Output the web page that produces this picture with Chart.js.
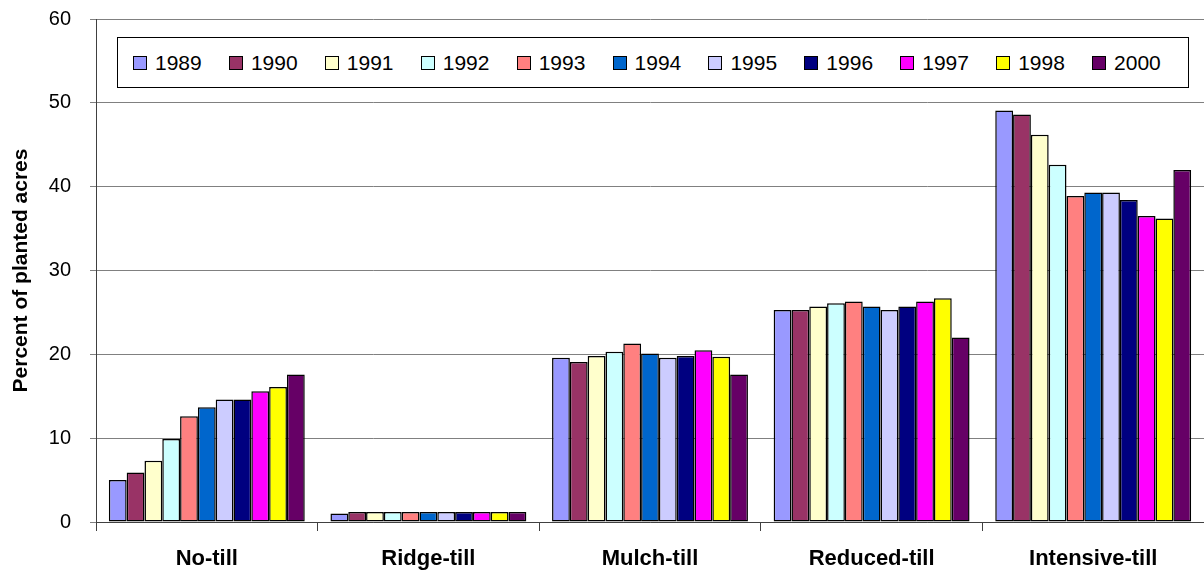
<html lang="en">
<head>
<meta charset="UTF-8">
<title>Tillage practices</title>
<script src="https://cdn.jsdelivr.net/npm/chart.js"></script>
<style>
  body { margin: 0; background: #fff; font-family: "Liberation Sans", Arial, sans-serif; }
  #wrap { position: relative; width: 1204px; height: 571px; }
  #legend {
    position: absolute; left: 117px; top: 37px; width: 1072px; height: 51px;
    box-sizing: border-box; border: 1px solid #000; background: #fff;
    display: flex; align-items: center; padding-left: 15px;
  }
  .item { width: 98px; display: flex; align-items: center; font-size: 21px; color: #000; }
  .sw { width: 14px; height: 14px; box-sizing: border-box; border: 1.5px solid #000; margin-right: 8px; }
</style>
</head>
<body>
<div id="wrap">
  <canvas id="c" width="1204" height="571"></canvas>
  <div id="legend"></div>
</div>
<script>
// data
const categories = ['No-till', 'Ridge-till', 'Mulch-till', 'Reduced-till', 'Intensive-till'];
const years = ['1989', '1990', '1991', '1992', '1993', '1994', '1995', '1996', '1997', '1998', '2000'];
const v1989 = [5.0, 1.0, 19.6, 25.3, 49.1];
const v1990 = [5.9, 1.2, 19.1, 25.3, 48.6];
const v1991 = [7.3, 1.2, 19.8, 25.7, 46.2];
const v1992 = [9.9, 1.2, 20.3, 26.1, 42.6];
const v1993 = [12.6, 1.2, 21.3, 26.3, 38.9];
const v1994 = [13.7, 1.2, 20.1, 25.7, 39.3];
const v1995 = [14.6, 1.2, 19.6, 25.3, 39.3];
const v1996 = [14.6, 1.2, 19.8, 25.7, 38.4];
const v1997 = [15.6, 1.2, 20.5, 26.3, 36.5];
const v1998 = [16.1, 1.2, 19.7, 26.7, 36.2];
const v2000 = [17.6, 1.2, 17.6, 22.0, 42.0];
const series = [v1989, v1990, v1991, v1992, v1993, v1994, v1995, v1996, v1997, v1998, v2000];
const yTitle = 'Percent of planted acres';

const colors = ['#9999FF', '#993366', '#FFFFCC', '#CCFFFF', '#FF8080', '#0066CC',
                '#CCCCFF', '#000080', '#FF00FF', '#FFFF00', '#660066'];

const datasets = years.map((y, i) => ({
  label: y,
  data: series[i],
  backgroundColor: colors[i],
  borderColor: '#000',
  borderWidth: 1.5,
  borderSkipped: false,
  categoryPercentage: 0.884,
  barPercentage: 1.0
}));

const chart = new Chart(document.getElementById('c'), {
  type: 'bar',
  data: { labels: categories, datasets: datasets },
  options: {
    responsive: false,
    animation: false,
    devicePixelRatio: 1,
    layout: { padding: { top: 19, left: 0, right: 0, bottom: 0 } },
    plugins: { legend: { display: false }, tooltip: { enabled: false } },
    scales: {
      x: {
        afterFit: s => { s.height = 49; },
        grid: { drawOnChartArea: false, tickLength: 9, color: '#404040' },
        border: { color: '#404040' },
        ticks: {
          padding: 15, color: '#000',
          font: { family: 'Liberation Sans', size: 22, weight: 'bold' }
        }
      },
      y: {
        min: 0, max: 60,
        // fixed axis width, and no extra room above the top tick
        afterFit: s => { s.width = 96; s.paddingTop = 0; s.paddingBottom = 0; },
        grid: { color: '#808080', tickLength: 6 },
        border: { color: '#404040' },
        ticks: {
          stepSize: 10, padding: 19, color: '#000',
          font: { family: 'Liberation Sans', size: 20 }
        },
        title: {
          display: true, text: yTitle, color: '#000',
          padding: { top: 9, bottom: 0 },
          font: { family: 'Liberation Sans', size: 21, weight: 'bold' }
        }
      }
    }
  }
});

// html legend built from the datasets
const legend = document.getElementById('legend');
chart.data.datasets.forEach(ds => {
  const it = document.createElement('div');
  it.className = 'item';
  const sw = document.createElement('span');
  sw.className = 'sw';
  sw.style.background = ds.backgroundColor;
  it.appendChild(sw);
  it.appendChild(document.createTextNode(ds.label));
  legend.appendChild(it);
});
</script>
</body>
</html>
